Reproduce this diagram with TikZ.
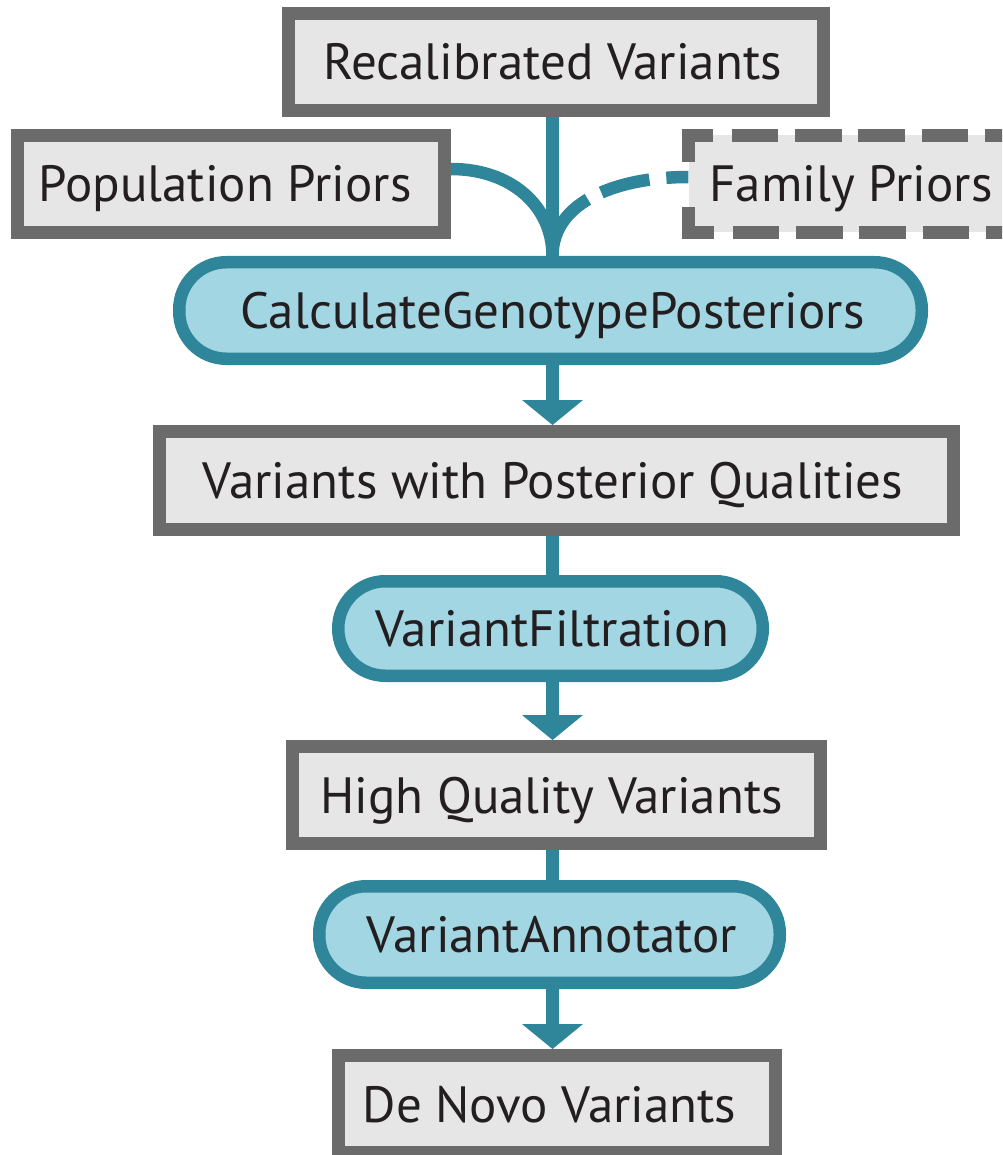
\documentclass[tikz,border=0pt]{standalone}
\usepackage{fontspec}
\setmainfont{PT Sans}
\usetikzlibrary{arrows.meta,calc}

\definecolor{boxline}{RGB}{106,107,106}
\definecolor{boxfill}{RGB}{230,230,230}
\definecolor{toolline}{RGB}{47,133,153}
\definecolor{toolfill}{RGB}{163,214,227}
\definecolor{ink}{RGB}{35,31,32}

\begin{document}
\begin{tikzpicture}[x=1pt,y=-1pt,
  font=\fontsize{51}{60}\selectfont, text=ink,
  databox/.style={draw=boxline, fill=boxfill, line width=13pt, inner sep=0pt,
    text height=36pt, text depth=0pt},
  toolbox/.style={draw=toolline, fill=toolfill, line width=12.5pt, inner sep=0pt,
    rounded corners=47pt, text height=36pt, text depth=0pt},
  link/.style={draw=toolline, line width=12.5pt},
  flow/.style={link, -{Triangle[width=61pt,length=25pt,line width=0pt]}},
  famdash/.style={draw=boxline, line width=13pt,
    dash pattern=on 51pt off 19pt on 46pt off 17pt on 47pt off 16pt on 47pt off 17pt on 46pt off 17pt on 80pt}
]
\useasboundingbox (0,0) rectangle (1002,1155);
\clip (0,0) rectangle (1002,1155);

% shared vertical axis of the pipeline
\coordinate (spine) at (552.5,0);

% data sets and tools
\node[databox, minimum width=535pt, minimum height=97pt] (recal) at (556,62)
  {\hspace*{-7pt}Recalibrated Variants};
\node[databox, minimum width=427pt, minimum height=97pt] (pop) at (231,184)
  {\hspace*{-12pt}Population Priors};
\node[fill=boxfill, inner sep=0pt, minimum width=325pt, minimum height=97pt,
  text height=36pt, text depth=0pt] (fam) at (851,184) {Family Priors};
\node[toolbox, minimum width=742.5pt, minimum height=96.5pt] (cgp) at (550.5,310.5)
  {\hspace*{4pt}CalculateGenotypePosteriors};
\node[databox, minimum width=794pt, minimum height=98pt] (vpq) at (556.5,480.5)
  {\hspace*{-7pt}Variants with Posterior Qualities};
\node[toolbox, minimum width=424.5pt, minimum height=94.5pt] (vf) at (550.5,628.5)
  {\hspace*{4pt}VariantFiltration};
\node[databox, minimum width=528pt, minimum height=97pt] (hq) at (556.5,795)
  {\hspace*{-10pt}High Quality Variants};
\node[toolbox, minimum width=460.5pt, minimum height=96.5pt] (va) at (549.5,934.5)
  {\hspace*{5pt}VariantAnnotator};
\node[databox, minimum width=437pt, minimum height=97pt] (dn) at (557,1104)
  {\hspace*{-15pt}De Novo Variants};

% dashed frame of the optional family priors
\draw[famdash] ($(fam.north west)+(0,26.5)$) -- (fam.north west) -- ($(fam.north east)+(20,0)$);
\draw[famdash] ($(fam.south west)+(0,-25.5)$) -- (fam.south west) -- ($(fam.south east)+(20,0)$);

% inputs merging into CalculateGenotypePosteriors
\draw[link] (recal.south -| spine) -- (cgp.north -| spine);
\draw[link] ($(pop.east)+(0,-15)$) .. controls +(60,0) and +(0,-50) .. (cgp.north -| spine);
\draw[link, dash pattern=on 22pt off 17pt on 50pt off 15pt on 90pt]
  ($(fam.west)+(0,-7)$) .. controls +(-68,0) and +(0,-56) .. (cgp.north -| spine);

% main flow
\draw[flow] (cgp.south -| spine) -- (vpq.north -| spine);
\draw[link] (vpq.south -| spine) -- (vf.north -| spine);
\draw[flow] (vf.south -| spine) -- (hq.north -| spine);
\draw[link] (hq.south -| spine) -- (va.north -| spine);
\draw[flow] (va.south -| spine) -- (dn.north -| spine);
\end{tikzpicture}
\end{document}
